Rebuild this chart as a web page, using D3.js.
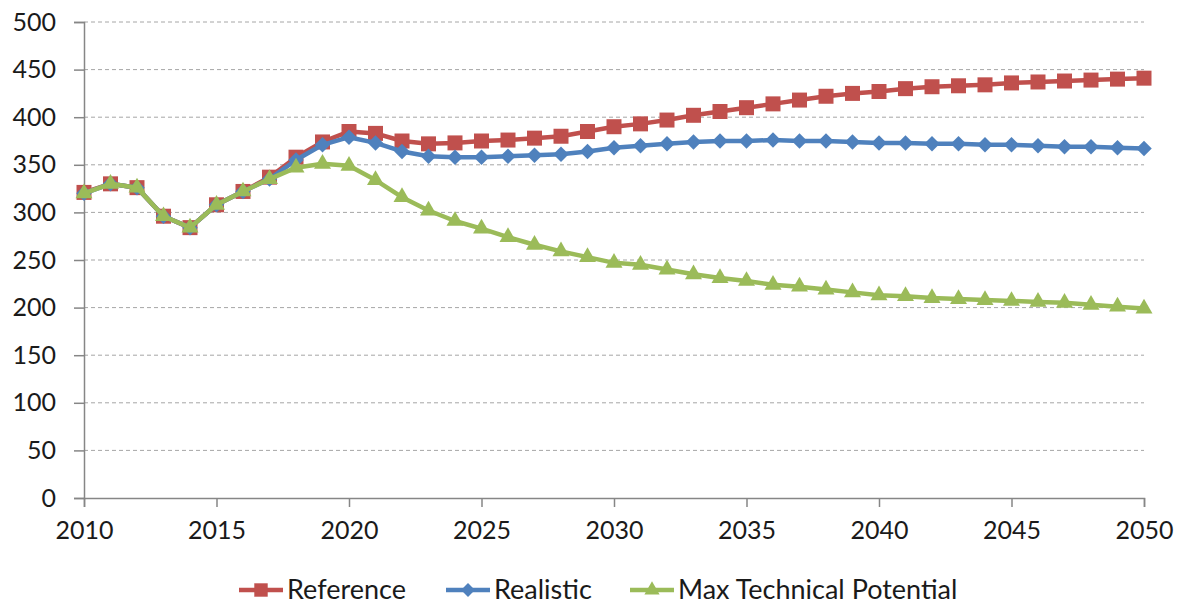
<!DOCTYPE html>
<html>
<head>
<meta charset="utf-8">
<script src="https://cdn.jsdelivr.net/npm/d3@7"></script>
<style>
  body { margin: 0; background: #fff; }
  svg text { font-family: Lato, "Open Sans", sans-serif; fill: #1a1a1a; }
</style>
</head>
<body>
<svg id="chart" width="1187" height="605"></svg>
<script>
var years = d3.range(2010, 2051);
var reference = [321,330,326,296,284,308,322,337,358,374,385,383,375,372,373,375,376,378,380,385,390,393,397,402,406,410,414,418,422,425,427,430,432,433,434,436,437,438,439,440,441];
var realistic = [320,330,326,296,284,308,322,335,355,371,379,373,364,359,358,358,359,360,361,364,368,370,372,374,375,375,376,375,375,374,373,373,372,372,371,371,370,369,369,368,367];
var maxTech   = [320,330,326,296,284,308,322,335,347,351,349,334,316,302,291,283,274,266,259,253,247,245,240,235,231,228,224,222,219,216,213,212,210,209,208,207,206,205,203,201,199];
var yTicks = [0,50,100,150,200,250,300,350,400,450,500];
var xTicks = [2010,2015,2020,2025,2030,2035,2040,2045,2050];
var seriesNames = ["Reference", "Realistic", "Max Technical Potential"];

var colors = ["#C0504D", "#4F81BD", "#9BBB59"];
// square, diamond (square turned 45deg), triangle
var symbols = [d3.symbolSquare, d3.symbolSquare, d3.symbolTriangle];
var symRotate = [0, 45, 0];
var symSizes = [225, 120, 125];

var svg = d3.select("#chart");
var plotL = 84, plotR = 1144, plotT = 22, plotB = 498;

var x = d3.scaleLinear().domain([2010, 2050]).range([plotL, plotR]);
var y = d3.scaleLinear().domain([0, 500]).range([plotB, plotT]);

// grid
svg.append("g").selectAll("line")
  .data(yTicks.filter(function(d){ return d > 0; }))
  .enter().append("line")
  .attr("x1", plotL).attr("x2", plotR)
  .attr("y1", function(d){ return y(d); })
  .attr("y2", function(d){ return y(d); })
  .attr("stroke", "#a6a6a6")
  .attr("stroke-width", 1)
  .attr("stroke-dasharray", "4,3");

// y axis
var yAxis = svg.append("g")
  .attr("transform", "translate(" + plotL + ",0)")
  .call(d3.axisLeft(y).tickValues(yTicks).tickSize(10).tickPadding(18));
// x axis
var xAxis = svg.append("g")
  .attr("transform", "translate(0," + plotB + ")")
  .call(d3.axisBottom(x).tickValues(xTicks).tickFormat(d3.format("d")).tickSize(9).tickPadding(14));

[yAxis, xAxis].forEach(function(a){
  a.select(".domain").attr("stroke", "#868686").attr("stroke-width", 1.5);
  a.selectAll(".tick line").attr("stroke", "#868686").attr("stroke-width", 1.5);
  a.selectAll("text").attr("font-size", 25).attr("fill", "#1a1a1a")
    .style("font-family", "Lato, 'Open Sans', sans-serif");
});

var data = [reference, realistic, maxTech];
var line = d3.line()
  .x(function(d, i){ return x(years[i]); })
  .y(function(d){ return y(d); });

data.forEach(function(vals, k){
  var g = svg.append("g");
  g.append("path")
    .datum(vals)
    .attr("d", line)
    .attr("fill", "none")
    .attr("stroke", colors[k])
    .attr("stroke-width", 4.5)
    .attr("stroke-linejoin", "round");
  g.selectAll("path.m")
    .data(vals)
    .enter().append("path")
    .attr("class", "m")
    .attr("d", d3.symbol().type(symbols[k]).size(symSizes[k]))
    .attr("transform", function(d, i){
      return "translate(" + x(years[i]) + "," + y(d) + ") rotate(" + symRotate[k] + ")";
    })
    .attr("fill", colors[k]);
});

// legend
var legendX = [239, 446, 630];
var legend = svg.append("g");
seriesNames.forEach(function(name, k){
  var lg = legend.append("g").attr("transform", "translate(" + legendX[k] + ",590)");
  lg.append("line").attr("x1", 0).attr("x2", 44).attr("y1", 0).attr("y2", 0)
    .attr("stroke", colors[k]).attr("stroke-width", 4.5);
  lg.append("path")
    .attr("d", d3.symbol().type(symbols[k]).size(symSizes[k] * 0.8))
    .attr("transform", "translate(22,0) rotate(" + symRotate[k] + ")")
    .attr("fill", colors[k]);
  lg.append("text").attr("x", 48).attr("y", 0).attr("dy", "0.35em")
    .attr("font-size", 27).text(name);
});
</script>
</body>
</html>
